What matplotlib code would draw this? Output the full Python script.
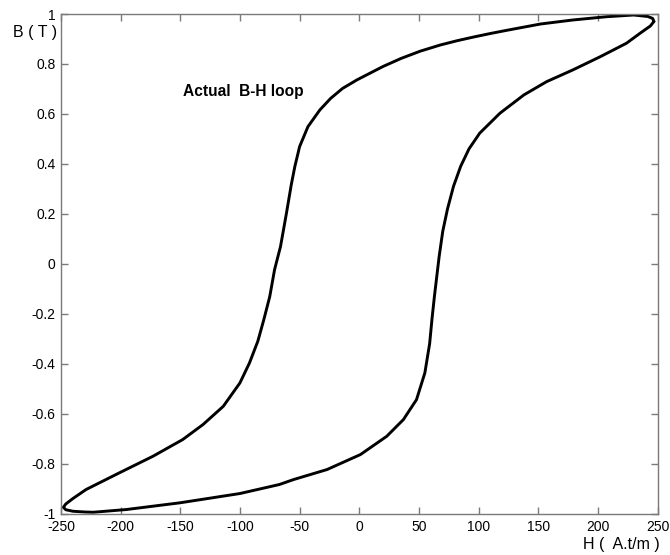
import matplotlib
matplotlib.use("Agg")
import matplotlib.pyplot as plt

# Descending branch: from right tip over the top, down to left tip
H_down = [247, 246, 242, 230, 207, 179, 152, 124, 110, 96, 82, 68, 51, 35, 20,
          -2, -14, -24, -33, -43, -50, -54, -57, -61, -66, -71, -75, -80, -85, -92,
          -100, -114, -131, -148, -173, -201, -229, -240, -246, -248]
B_down = [0.970, 0.982, 0.990, 0.996, 0.989, 0.976, 0.960, 0.935, 0.922, 0.908,
          0.893, 0.876, 0.851, 0.822, 0.790, 0.736, 0.702, 0.662, 0.616, 0.549,
          0.469, 0.389, 0.316, 0.203, 0.069, -0.024, -0.131, -0.224, -0.310,
          -0.397, -0.477, -0.571, -0.644, -0.704, -0.771, -0.837, -0.904,
          -0.940, -0.962, -0.975]

# Ascending branch: from left tip along the bottom, up to right tip
H_up = [-248, -246, -240, -230, -223, -195, -150, -100, -67, -55, -27, 1, 23,
        37, 48, 55, 59, 61, 63, 65, 67, 70, 74, 79, 85, 92, 101, 118, 138, 157,
        179, 202, 224, 236, 244, 247]
B_up = [-0.975, -0.985, -0.991, -0.994, -0.995, -0.984, -0.957, -0.920, -0.884,
        -0.864, -0.824, -0.764, -0.691, -0.624, -0.544, -0.437, -0.320, -0.220,
        -0.131, -0.050, 0.030, 0.130, 0.220, 0.310, 0.390, 0.460, 0.523, 0.603,
        0.676, 0.729, 0.776, 0.829, 0.883, 0.925, 0.952, 0.970]

x_ticks = [-250, -200, -150, -100, -50, 0, 50, 100, 150, 200, 250]
y_ticks = [-1, -0.8, -0.6, -0.4, -0.2, 0, 0.2, 0.4, 0.6, 0.8, 1]
y_tick_labels = ["-1", "-0.8", "-0.6", "-0.4", "-0.2", "0", "0.2", "0.4", "0.6", "0.8", "1"]

plt.rcParams['font.family'] = ['Liberation Sans', 'DejaVu Sans']

W, Hpx = 670, 555
fig = plt.figure(figsize=(W / 100, Hpx / 100), dpi=100)
ax = fig.add_axes([61 / W, 1 - 513.5 / Hpx, (657.5 - 61) / W, (513.5 - 14) / Hpx])

ax.plot(H_down + H_up, B_down + B_up, color='black', lw=2.1,
        solid_joinstyle='round', solid_capstyle='round')

ax.set_xlim(-250, 250)
ax.set_ylim(-1, 1)
ax.set_xticks(x_ticks)
ax.set_xticklabels([str(v) for v in x_ticks])
ax.set_yticks(y_ticks)
ax.set_yticklabels(y_tick_labels)

frame_col = '#7a7a7a'
for s in ax.spines.values():
    s.set_color(frame_col)
    s.set_linewidth(1.0)
ax.tick_params(direction='in', length=5, width=1, color=frame_col,
               top=True, right=True, labelsize=10, labelcolor='black')
ax.tick_params(axis='x', pad=5)
ax.tick_params(axis='y', pad=4)

ax.text(-148, 0.69, "Actual  B-H loop", fontsize=11.2, fontweight='bold',
        ha='left', va='center')

fig.text(57 / W, 1 - 32 / Hpx, "B ( T )", fontsize=11.5, ha='right', va='center')
fig.text(660 / W, 1 - 544 / Hpx, "H (  A.t/m )", fontsize=11.5, ha='right', va='center')

fig.savefig("out.png", dpi=100, facecolor='white')
